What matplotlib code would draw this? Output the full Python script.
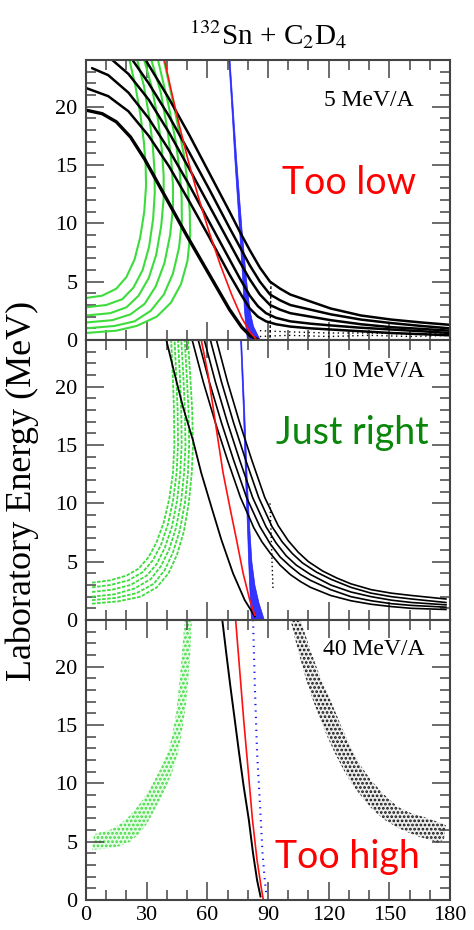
import matplotlib
matplotlib.use('Agg')
import matplotlib.pyplot as plt
from matplotlib.ticker import MultipleLocator

plt.rcParams['font.family'] = ['Liberation Serif', 'DejaVu Serif']
plt.rcParams['mathtext.fontset'] = 'stix'
plt.rcParams['hatch.linewidth'] = 1.3

# ------------------- 5 MeV/A -------------------
e5_black_x = [
    [0, 8, 15, 22, 29, 36, 43, 50, 57, 64, 71, 77, 81, 85],
    [0, 11, 21, 31, 41, 51, 61, 71, 77, 81, 85, 89, 94, 101, 111, 121, 136, 151, 166, 180],
    [3, 11, 21, 31, 41, 51, 61, 71, 76, 81, 85, 89, 94, 101, 111, 121, 136, 151, 166, 180],
    [13, 21, 31, 41, 51, 61, 71, 76, 81, 86, 91, 96, 101, 106, 111, 121, 136, 151, 166, 180],
    [23, 31, 41, 51, 61, 71, 76, 81, 86, 91, 96, 101, 106, 111, 121, 136, 151, 166, 180],
    [29.5, 41, 51, 61, 71, 76, 81, 86, 91, 96, 101, 106, 111, 121, 136, 151, 166, 180],
]
e5_black_y = [
    [19.7, 19.4, 18.7, 17.4, 15.5, 13.3, 11.1, 8.9, 6.8, 4.7, 2.6, 1.1, 0.4, 0.0],
    [21.6, 20.9, 19.6, 17.5, 14.9, 11.9, 8.8, 5.6, 3.8, 2.7, 2.0, 1.6, 1.35, 1.15, 1.0, 0.9, 0.75, 0.6, 0.5, 0.4],
    [23.3, 22.7, 21.2, 19.0, 16.3, 13.3, 10.1, 6.9, 5.3, 3.8, 2.9, 2.3, 1.9, 1.6, 1.4, 1.25, 1.05, 0.9, 0.75, 0.6],
    [24.0, 22.8, 20.6, 17.8, 14.7, 11.5, 8.3, 6.7, 5.2, 3.9, 3.0, 2.6, 2.3, 2.15, 2.0, 1.7, 1.35, 1.1, 0.95, 0.8],
    [24.0, 22.0, 19.2, 16.1, 12.9, 9.6, 8.0, 6.4, 5.0, 3.9, 3.4, 3.0, 2.8, 2.6, 2.2, 1.75, 1.45, 1.2, 1.0],
    [24.0, 20.7, 17.6, 14.3, 11.0, 9.3, 7.7, 6.2, 5.0, 4.4, 3.9, 3.6, 3.3, 2.7, 2.1, 1.75, 1.5, 1.3],
]
e5_green_x = [
    [0, 8, 15, 20, 24, 26.8, 28.8, 29.7, 29.5, 28.6, 26.9, 24.5, 21.5],
    [0, 10, 18, 23.5, 28, 31.2, 33.2, 34.0, 33.9, 33.0, 31.2, 28.6, 25.3],
    [0, 12, 20, 26, 31, 34.7, 37.2, 38.4, 38.4, 37.5, 35.7, 32.6, 28.8],
    [0, 13, 22, 29, 34.5, 38.8, 41.6, 43.0, 43.0, 42.1, 40.3, 37.0, 32.3],
    [0, 14, 24, 32, 38.5, 43, 46, 47.4, 47.3, 46.3, 44.4, 40.6, 35.6],
    [0, 15, 25, 35, 42, 47, 50.2, 51.5, 51.3, 50.2, 48.3, 44.0, 38.5],
]
e5_green_y = [
    [3.6, 3.8, 4.4, 5.4, 6.9, 8.8, 11.0, 13.2, 15.0, 17.0, 19.3, 21.7, 24.0],
    [2.8, 3.0, 3.5, 4.5, 6.0, 8.0, 10.4, 12.6, 14.5, 16.7, 19.2, 21.8, 24.0],
    [2.1, 2.3, 2.8, 3.8, 5.3, 7.3, 9.8, 12.1, 14.1, 16.3, 18.8, 21.6, 24.0],
    [1.5, 1.7, 2.2, 3.1, 4.6, 6.6, 9.0, 11.3, 13.3, 15.5, 18.0, 21.2, 24.0],
    [1.0, 1.2, 1.6, 2.5, 3.9, 5.7, 7.9, 10.2, 12.2, 14.5, 17.0, 20.3, 24.0],
    [0.6, 0.8, 1.2, 2.0, 3.2, 4.8, 6.8, 9.0, 11.0, 13.5, 16.0, 19.6, 24.0],
]
e5_red_x = [38.8, 42, 46, 50.5, 55.5, 61, 66.5, 72, 77, 81, 84]
e5_red_y = [24.0, 21.5, 18.5, 15.4, 12.3, 9.2, 6.4, 3.9, 1.9, 0.7, 0.1]
e5_blue_y = [24, 19, 15.4, 9.7, 5.4, 2.6, 1.2, 0]
e5_blue_left = [70.4, 72.2, 73.4, 75.6, 77.2, 78.1, 78.8, 79.6]
e5_blue_right = [71.0, 72.9, 74.3, 76.8, 79.0, 80.8, 82.6, 86.0]
e5_noise_x = [86, 100, 120, 140, 160, 180]
e5_noise_y = [[0.3, 0.4, 0.3, 0.4, 0.3, 0.4], [0.8, 0.7, 0.6, 0.6, 0.5, 0.6]]
e5_spike_x = [91, 91.5]
e5_spike_y = [0.2, 5.2]

# ------------------- 10 MeV/A -------------------
e10_family_x = [
    [52.5, 58, 64, 70, 76.4, 83, 87, 91.2, 96, 101, 106, 111, 121, 131, 141, 151, 161, 178],
    [55.5, 61, 67, 73, 79.4, 86, 91.2, 96, 101, 106, 111, 121, 131, 141, 151, 161, 178],
    [58.5, 64, 70, 76, 82.4, 89, 94, 99, 104, 111, 121, 131, 141, 151, 161, 178],
    [61.5, 67, 73, 79, 85.4, 92, 97, 102, 107, 114, 121, 131, 141, 151, 161, 178],
    [64.5, 70, 76, 82, 88.4, 95, 100, 105, 110, 117, 124, 131, 141, 151, 161, 178],
]
e10_family_y = [
    [24, 20.4, 16.9, 13.7, 10.5, 7.9, 6.7, 5.7, 4.7, 3.9, 3.3, 2.8, 2.1, 1.65, 1.35, 1.15, 1.0, 0.9],
    [24, 20.4, 16.9, 13.7, 10.5, 8.0, 6.5, 5.4, 4.6, 3.9, 3.4, 2.6, 2.0, 1.65, 1.4, 1.25, 1.1],
    [24, 20.4, 16.9, 13.7, 10.5, 8.0, 6.6, 5.5, 4.7, 3.9, 3.0, 2.4, 2.0, 1.7, 1.5, 1.3],
    [24, 20.4, 16.9, 13.7, 10.5, 8.0, 6.7, 5.7, 4.9, 4.1, 3.5, 2.8, 2.3, 2.0, 1.8, 1.5],
    [24, 20.4, 16.9, 13.7, 10.5, 8.1, 6.8, 5.8, 5.0, 4.2, 3.6, 3.1, 2.6, 2.3, 2.1, 1.8],
]
e10_black_x = [39.7, 43.8, 47.9, 52.9, 57, 62, 66.9, 72.7, 78.5, 83.5]
e10_black_y = [24.0, 21.1, 18.3, 15.4, 12.6, 9.7, 6.9, 4.0, 1.7, 0.3]
e10_red_x = [57, 60.3, 62.8, 65.3, 67.8, 71.1, 74.4, 77.7, 81, 83.5]
e10_red_y = [24.0, 21.1, 18.3, 15.4, 12.6, 9.7, 6.9, 4.0, 1.7, 0.4]
e10_green_x = [
    [3, 12, 20, 26, 31, 35, 38.5, 41.2, 43.0, 43.7, 43.5, 42.9, 42.1],
    [3, 12, 21, 28, 33, 37, 40.5, 43.1, 44.8, 45.5, 45.3, 44.6, 43.8],
    [3, 13, 22, 30, 35, 39, 42.5, 45.0, 46.6, 47.3, 47.1, 46.4, 45.5],
    [3, 14, 24, 32, 37, 41, 44.5, 47.0, 48.5, 49.2, 48.9, 48.1, 47.1],
    [3, 15, 25, 33.5, 39, 43, 46.4, 48.9, 50.4, 51.0, 50.7, 49.8, 48.8],
    [3, 16, 27, 35, 40.8, 45, 48.4, 50.8, 52.3, 52.9, 52.5, 51.5, 50.4],
]
e10_green_y = [
    [3.2, 3.4, 3.8, 4.4, 5.4, 6.7, 8.4, 10.4, 12.6, 15.0, 18.0, 21.0, 24.0],
    [2.8, 3.0, 3.4, 4.1, 5.1, 6.4, 8.2, 10.3, 12.6, 15.0, 18.0, 21.0, 24.0],
    [2.4, 2.6, 3.0, 3.8, 4.8, 6.2, 8.0, 10.2, 12.6, 15.0, 18.0, 21.0, 24.0],
    [2.0, 2.2, 2.7, 3.5, 4.6, 6.0, 7.9, 10.1, 12.6, 15.0, 18.0, 21.0, 24.0],
    [1.7, 1.9, 2.3, 3.1, 4.3, 5.8, 7.7, 10.0, 12.6, 15.0, 18.0, 21.0, 24.0],
    [1.4, 1.6, 2.0, 2.8, 4.0, 5.6, 7.6, 10.0, 12.6, 15.0, 18.0, 21.0, 24.0],
]
e10_blue_y = [24, 18, 12, 8, 5, 3, 1.5, 0]
e10_blue_left = [76.2, 77.6, 78.7, 79.6, 80.2, 80.7, 81.1, 81.6]
e10_blue_right = [76.7, 78.2, 79.5, 80.7, 81.8, 83.3, 85.3, 88.0]
e10_spike_x = [91, 92.5]
e10_spike_y = [10.0, 2.5]

# ------------------- 40 MeV/A -------------------
e40_black_x = [67.4, 69.4, 71.4, 73.6, 75.7, 78, 80.5, 82.6, 84.6, 86.3]
e40_black_y = [24.0, 21.1, 18.3, 15.4, 12.6, 9.7, 6.9, 4.0, 1.7, 0.3]
e40_red_x = [74, 76, 78, 80.2, 82.3, 84.6, 86.8, 87.6]
e40_red_y = [24.0, 19.7, 15.4, 11.1, 6.9, 3.4, 0.9, 0.1]
e40_blue_x = [82.6, 83.5, 84.6, 86, 87.3, 88.4, 89.3]
e40_blue_y = [24.0, 18.3, 12.6, 8.3, 4.0, 1.7, 0.3]
e40_green_lo_x = [3, 10, 16.5, 22, 26.4, 30, 33, 36.5, 39.7, 42.3, 44.6, 46.5, 47.9, 49.3, 50.4, 51.5, 52.4]
e40_green_lo_y = [4.3, 4.4, 4.6, 5.0, 5.7, 6.5, 7.4, 8.5, 9.7, 10.8, 12.0, 13.5, 14.9, 16.6, 18.3, 21.0, 24.0]
e40_green_hi_x = [4, 7, 11.6, 15, 19.8, 24, 28.1, 32, 36.4, 38.8, 41.3, 43, 44.6, 46.4, 47.6, 48.8]
e40_green_hi_y = [5.6, 5.8, 6.0, 6.3, 6.9, 7.7, 8.6, 9.7, 11.1, 12.0, 13.1, 14.5, 16.0, 19.0, 21.5, 24.0]
e40_grey_hi_x = [106.1, 109.5, 112.7, 116.5, 121, 126, 130.9, 135.5, 140.8, 147, 154, 160, 167.3, 175.5, 178]
e40_grey_hi_y = [24.0, 22.2, 20.6, 18.8, 17.1, 15.0, 13.1, 11.6, 10.3, 9.1, 8.0, 7.5, 7.1, 6.6, 6.4]
e40_grey_lo_x = [101.1, 103.5, 106.1, 109, 112.7, 116, 119.3, 123, 127.6, 132, 137.5, 142, 147.4, 154, 160.6, 165, 170.6, 173.9, 177]
e40_grey_lo_y = [24.0, 22.3, 20.6, 18.8, 16.9, 15.4, 14.0, 12.6, 11.1, 9.8, 8.6, 7.7, 6.9, 6.2, 5.7, 5.4, 5.1, 4.9, 5.2]

GREEN = '#3ddc3d'
BLUE = '#1010ff'
RED = '#ff1010'
FRAME = '#444444'


def style(ax, bottom_labels):
    ax.set_xlim(0, 180)
    ax.set_ylim(0, 24)
    ax.xaxis.set_major_locator(MultipleLocator(30))
    ax.xaxis.set_minor_locator(MultipleLocator(10))
    ax.yaxis.set_major_locator(MultipleLocator(5))
    ax.yaxis.set_minor_locator(MultipleLocator(1))
    ax.tick_params(which='both', direction='in', top=True, right=True, color=FRAME, width=1.1)
    ax.tick_params(which='major', length=13)
    ax.tick_params(which='minor', length=7)
    ax.tick_params(axis='y', labelsize=16, pad=6)
    ax.tick_params(axis='x', labelsize=16, pad=4, labelbottom=bottom_labels)
    for s in ax.spines.values():
        s.set_color(FRAME)
        s.set_linewidth(1.5)


fig = plt.figure(figsize=(4.74, 9.30), dpi=100)
left, width, height = 86 / 474, 364 / 474, 280 / 930
ax1 = fig.add_axes([left, 1 - 340 / 930, width, height])
ax2 = fig.add_axes([left, 1 - 620 / 930, width, height])
ax3 = fig.add_axes([left, 1 - 900 / 930, width, height])

# --- panel 1
for gx, gy in zip(e5_green_x, e5_green_y):
    ax1.plot(gx, gy, color=GREEN, lw=1.5)
ax1.fill_betweenx(e5_blue_y, e5_blue_left, e5_blue_right, color=BLUE, lw=0.5, alpha=0.85)
for i, (bx, by) in enumerate(zip(e5_black_x, e5_black_y)):
    ax1.plot(bx, by, color='black', lw=2.4 if i == 0 else 1.8, solid_capstyle='round')
ax1.plot(e5_red_x, e5_red_y, color=RED, lw=1.2)
for ny in e5_noise_y:
    ax1.plot(e5_noise_x, ny, color='black', lw=1.0, ls=(0, (1, 2.5)))
ax1.plot(e5_spike_x, e5_spike_y, color='black', lw=1.0, ls=(0, (2, 1.5)))
ax1.text(0.90, 0.857, '5 MeV/A', transform=ax1.transAxes, ha='right', va='center', fontsize=17)
ax1.text(0.722, 0.56, 'Too low', transform=ax1.transAxes, ha='center', va='center',
         fontsize=27, color='red', family='Lato')

# --- panel 2
for gx, gy in zip(e10_green_x, e10_green_y):
    ax2.plot(gx, gy, color=GREEN, lw=1.3, ls=(0, (2, 0.8)))
ax2.fill_betweenx(e10_blue_y, e10_blue_left, e10_blue_right, color=BLUE, lw=0.5, alpha=0.85)
for fx, fy in zip(e10_family_x, e10_family_y):
    ax2.plot(fx, fy, color='black', lw=1.2)
ax2.plot(e10_black_x, e10_black_y, color='black', lw=1.3)
ax2.plot(e10_red_x, e10_red_y, color=RED, lw=1.2)
ax2.plot(e10_spike_x, e10_spike_y, color='black', lw=1.0, ls=(0, (1, 2)))
ax2.text(0.931, 0.887, '10 MeV/A', transform=ax2.transAxes, ha='right', va='center', fontsize=17)
ax2.text(0.731, 0.668, 'Just right', transform=ax2.transAxes, ha='center', va='center',
         fontsize=27, color='#0a870a', family='Lato')

# --- panel 3
green_poly_x = e40_green_lo_x + e40_green_hi_x[::-1]
green_poly_y = e40_green_lo_y + e40_green_hi_y[::-1]
ax3.fill(green_poly_x, green_poly_y, facecolor=GREEN, alpha=0.12, lw=0)
ax3.fill(green_poly_x, green_poly_y, facecolor='none', edgecolor=GREEN, hatch='....', lw=0)
grey_poly_x = e40_grey_hi_x + e40_grey_lo_x[::-1]
grey_poly_y = e40_grey_hi_y + e40_grey_lo_y[::-1]
ax3.fill(grey_poly_x, grey_poly_y, facecolor='black', alpha=0.07, lw=0)
ax3.fill(grey_poly_x, grey_poly_y, facecolor='none', edgecolor='#111111', hatch='....', lw=0)
ax3.plot(e40_blue_x, e40_blue_y, color=BLUE, lw=1.5, ls=(0, (0.6, 2.5)))
ax3.plot(e40_black_x, e40_black_y, color='black', lw=1.4)
ax3.plot(e40_red_x, e40_red_y, color=RED, lw=1.2)
ax3.text(0.931, 0.893, '40 MeV/A', transform=ax3.transAxes, ha='right', va='center', fontsize=17)
ax3.text(0.717, 0.154, 'Too high', transform=ax3.transAxes, ha='center', va='center',
         fontsize=27, color='red', family='Lato')

style(ax1, False)
style(ax2, False)
style(ax3, True)

fig.text(0.565, 0.962, r'$^{132}$Sn + C$_2$D$_4$', ha='center', va='center', fontsize=21)
fig.text(0.047, 0.472, 'Laboratory Energy (MeV)', rotation=90, ha='center', va='center', fontsize=26)

fig.savefig('out.png', dpi=100)
